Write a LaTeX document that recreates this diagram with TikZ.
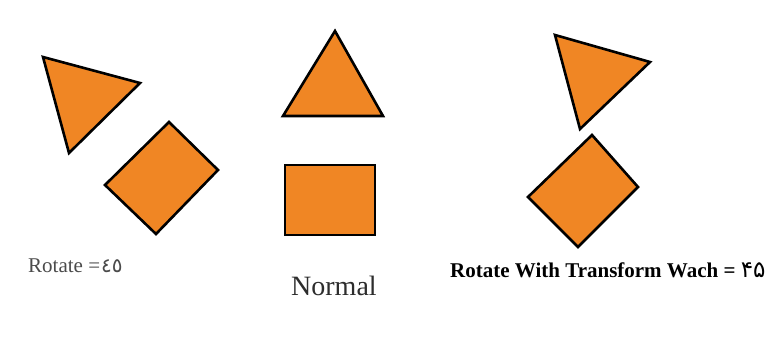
\documentclass[tikz,border=0pt]{standalone}
\usepackage{fontspec}
\setmainfont{Liberation Serif}
\newfontfamily\arabdig{DejaVu Sans}
\definecolor{orangefill}{RGB}{240,134,36}
\definecolor{lefttext}{RGB}{75,75,75}
\definecolor{midtext}{RGB}{45,45,45}
\begin{document}
\begin{tikzpicture}[x=1pt,y=-1pt,
  shapestyle/.style={fill=orangefill,draw=black,line width=2.6pt,line join=miter},
  caption/.style={inner sep=0pt,anchor=base west}]
\useasboundingbox (0,0) rectangle (766,349);
\fill[white] (0,0) rectangle (766,349);
% left: rotated
\draw[shapestyle] (43,57) -- (140,83) -- (69,153) -- cycle;
\draw[shapestyle] (169,122) -- (218,170) -- (156,234) -- (105,185) -- cycle;
% middle: normal
\draw[shapestyle] (335,31) -- (383,116) -- (283,116) -- cycle;
\draw[shapestyle] (285,165) rectangle (375,235);
% right: rotate with transform
\draw[shapestyle] (555,35) -- (650,62) -- (580,129) -- cycle;
\draw[shapestyle] (592,135) -- (638,187) -- (578,247) -- (528,197) -- cycle;
% captions
\node[caption,text=lefttext,font=\fontsize{21}{24}\selectfont] (leftcap) at (28,272)
  {Rotate =\kern1pt{\arabdig\fontsize{20}{24}\selectfont ٤٥}};
\node[caption,text=midtext,font=\fontsize{28}{32}\selectfont] (midcap) at (291,295) {Normal};
\node[caption,fill=white,font=\bfseries\fontsize{21}{24}\selectfont] (rightcap) at (450,277)
  {Rotate With Transform Wach = {\arabdig\mdseries\fontsize{23}{26}\selectfont ۴۵}};
\end{tikzpicture}
\end{document}
